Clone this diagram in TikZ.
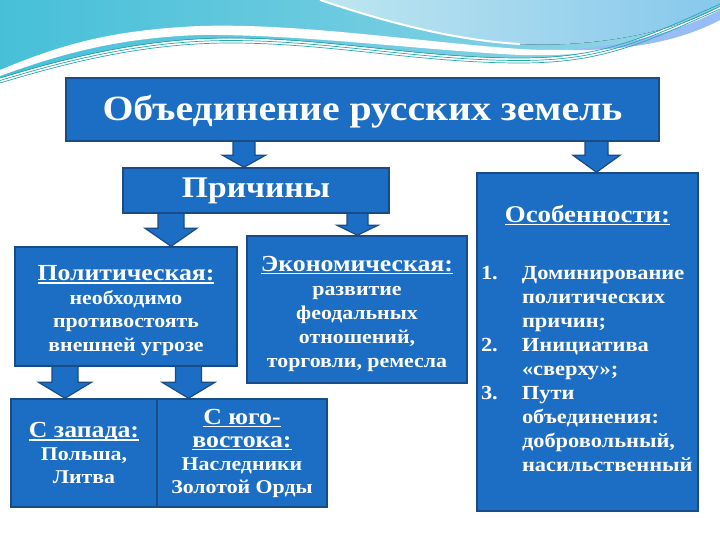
\documentclass[tikz,border=0pt]{standalone}
\usepackage{fontspec}
\setmainfont{Liberation Serif}[FakeStretch=1.12]
\usetikzlibrary{positioning,calc}
\pgfdeclarelayer{background}
\pgfsetlayers{background,main}

\definecolor{boxblue}{RGB}{28,110,196}
\definecolor{boxedge}{RGB}{25,75,135}
\definecolor{wavecyan}{RGB}{70,192,216}
\definecolor{wavelight}{RGB}{150,214,232}
\definecolor{wavelens}{RGB}{190,230,240}
\definecolor{wavelensb}{RGB}{135,200,236}
\definecolor{waveline}{RGB}{40,168,175}

\tikzset{
  blbox/.style={draw=boxedge, line width=1.5pt, fill=boxblue, text=white,
    align=center, inner sep=2pt},
  arrowbox/.style={draw=boxedge, line width=1.2pt, fill=boxblue},
}

% underlined heading with a thick rule
\newcommand{\headul}[1]{\setbox0\hbox{#1}\rlap{\rule[-3pt]{\wd0}{1.3pt}}\box0}

% block arrow: x, half shaft, half head, head length, from, to
\newcommand{\blockarr}[6]{%
  \filldraw[arrowbox] let \p1=(#5.south), \p2=(#6.north) in
    (#1pt-#2pt,\y1+3pt) -- (#1pt-#2pt,\y2+#4pt) -- (#1pt-#3pt,\y2+#4pt) -- (#1pt,\y2)
    -- (#1pt+#3pt,\y2+#4pt) -- (#1pt+#2pt,\y2+#4pt) -- (#1pt+#2pt,\y1+3pt) -- cycle;}

\begin{document}
\begin{tikzpicture}[x=1pt,y=-1pt]
\useasboundingbox (0,0) rectangle (720,540);
\begin{pgfonlayer}{background}
  \fill[white] (0,0) rectangle (720,540);
\end{pgfonlayer}

% waves at the top
\fill[left color=wavecyan, right color=wavelight]
  (0,0) -- (720,0) -- (720,4) .. controls (640,40) and (600,58) .. (520,58)
  .. controls (420,58) and (330,38) .. (230,38) .. controls (140,38) and (60,60) .. (0,78) -- cycle;
\fill[white]
  (0,70) .. controls (60,45) and (110,30) .. (200,26) .. controls (300,23) and (420,42) .. (520,49)
  .. controls (600,54) and (660,40) .. (720,10) -- (720,14)
  .. controls (660,45) and (600,57) .. (520,55) .. controls (420,50) and (300,34) .. (200,35)
  .. controls (110,38) and (50,58) .. (0,76) -- cycle;
\fill[left color=wavelens, right color=wavelensb]
  (320,0) .. controls (380,20) and (450,40) .. (520,44) .. controls (600,48) and (680,30) .. (720,6)
  -- (720,0) -- cycle;
\draw[white, line width=2pt] (320,0) .. controls (380,20) and (450,40) .. (520,44);
\fill[wavelensb!80!blue!70]
  (560,50) .. controls (640,46) and (690,25) .. (720,10) -- (720,20)
  .. controls (690,36) and (640,52) .. (560,50) -- cycle;
\foreach \dy in {0,2.5,5}
  \draw[waveline, line width=0.7pt, yshift=-\dy pt]
    (0,78) .. controls (60,60) and (140,38) .. (230,38) .. controls (330,38) and (420,58) .. (520,58)
    .. controls (600,58) and (640,40) .. (720,4);

% boxes
\node[blbox, minimum width=593pt, minimum height=63pt, font=\bfseries\fontsize{35.5}{38}\selectfont]
  (unity) at (362.5,109.5) {\rule{0pt}{30pt}Объединение русских земель};
\node[blbox, minimum width=266pt, minimum height=45pt, font=\bfseries\fontsize{30}{34}\selectfont]
  (reasons) at (256,190.5) {Причины};
\node[blbox, minimum width=222pt, minimum height=119pt, font=\bfseries\fontsize{19.5}{23.5}\selectfont]
  (polit) at (126,306.5) {{\fontsize{23}{23.5}\selectfont\rule{0pt}{23pt}\headul{Политическая:}}\\
    необходимо\\ противостоять\\ внешней угрозе};
\node[blbox, minimum width=220pt, minimum height=147pt, font=\bfseries\fontsize{19.5}{24}\selectfont]
  (econ) at (357,309.5) {{\fontsize{23}{24}\selectfont\rule{0pt}{24pt}\headul{Экономическая:}}\\
    развитие\\ феодальных\\ отношений,\\ торговли, ремесла};
\node[blbox, minimum width=221pt, minimum height=338pt, text width=213pt, inner xsep=4pt,
  font=\bfseries\fontsize{20}{24}\selectfont]
  (features) at (587.5,342) {{\fontsize{24}{24}\selectfont\headul{Особенности:}}\\[33pt]
    \begin{tabular}[t]{@{}p{41pt}@{}p{172pt}@{}}
    1. & Доминирование\\ & политических\\ & причин;\\
    2. & Инициатива\\ & «сверху»;\\
    3. & Пути\\ & объединения:\\ & добровольный,\\ & насильственный
    \end{tabular}};
\node[blbox, minimum width=146pt, minimum height=108pt, font=\bfseries\fontsize{19.5}{23}\selectfont]
  (west) at (84,453) {{\fontsize{23}{26}\selectfont\headul{С запада:}}\\ Польша,\\ Литва};
\node[blbox, minimum width=170pt, minimum height=108pt, font=\bfseries\fontsize{19.5}{23}\selectfont]
  (southeast) [right=-1.5pt of west] {{\fontsize{23}{28}\selectfont\headul{С юго-}}\\
    {\fontsize{23}{28}\selectfont\headul{востока:}}\\ Наследники\\ Золотой Орды};

% arrows
\begin{pgfonlayer}{background}
  \blockarr{244}{11}{21.5}{12}{unity}{reasons}
  \blockarr{596.5}{11.5}{23.5}{17}{unity}{features}
  \blockarr{171}{13}{26}{18}{reasons}{polit}
  \blockarr{357.5}{10.5}{20.5}{10}{reasons}{econ}
  \blockarr{65}{13}{26.5}{16}{polit}{west}
  \blockarr{188.5}{13}{26.5}{16}{polit}{southeast}
\end{pgfonlayer}
\end{tikzpicture}
\end{document}
